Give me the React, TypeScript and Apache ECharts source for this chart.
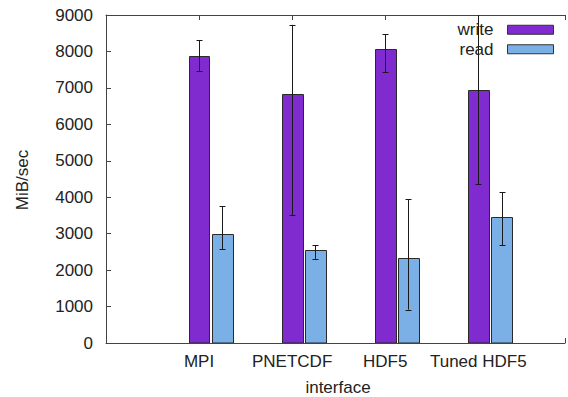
import React, { useEffect, useRef } from "react";
import * as echarts from "echarts";

const categories = ["MPI", "PNETCDF", "HDF5", "Tuned HDF5"];
const writeValues = [7870, 6830, 8060, 6940];
const writeLow = [7460, 3500, 7430, 4350];
const writeHigh = [8310, 8730, 8470, 9520];
const readValues = [3000, 2545, 2335, 3460];
const readLow = [2570, 2310, 915, 2680];
const readHigh = [3750, 2680, 3950, 4135];
const seriesNames = ["write", "read"];
const yMin = 0;
const yMax = 9000;
const yInterval = 1000;

const FONT = "'Liberation Sans', Arial, sans-serif";
const HALF_W = 0.112;
const READ_OFFSET = 0.25;

function makeData(values: number[], low: number[], high: number[], offset: number) {
  return values.map((v, i) => [i + 1 + offset, v, low[i], high[i]]);
}

function renderItem(params: any, api: any) {
  const x = api.value(0);
  const y = api.value(1);
  const lo = api.value(2);
  const hi = api.value(3);
  const pTop = api.coord([x - HALF_W, y]);
  const pBot = api.coord([x + HALF_W, 0]);
  const cx = Math.round(api.coord([x, 0])[0]) + 0.5;
  const eTop = api.coord([x, hi])[1];
  const eBot = api.coord([x, lo])[1];
  const left = Math.round(pTop[0]) + 0.5;
  const right = Math.round(pBot[0]) + 0.5;
  const top = Math.round(pTop[1]) + 0.5;
  const bottom = Math.round(pBot[1]);
  const errStyle = { stroke: "#1a1a1a", lineWidth: 1 };
  return {
    type: "group",
    children: [
      {
        type: "rect",
        shape: { x: left, y: top, width: right - left, height: bottom - top },
        style: { fill: api.visual("color"), stroke: "#2a2a2a", lineWidth: 1 },
      },
      { type: "line", shape: { x1: cx, y1: eTop, x2: cx, y2: eBot }, style: errStyle },
      { type: "line", shape: { x1: cx - 3, y1: Math.round(eTop) + 0.5, x2: cx + 3, y2: Math.round(eTop) + 0.5 }, style: errStyle },
      { type: "line", shape: { x1: cx - 3, y1: Math.round(eBot) + 0.5, x2: cx + 3, y2: Math.round(eBot) + 0.5 }, style: errStyle },
    ],
  };
}

export default function App() {
  const ref = useRef<HTMLDivElement>(null);
  useEffect(() => {
    document.body.style.margin = "0";
    const chart = echarts.init(ref.current!, undefined, { renderer: "svg" });
    const axisLineStyle = { color: "#444", width: 1 };
    chart.setOption({
      animation: false,
      backgroundColor: "#ffffff",
      textStyle: { fontFamily: FONT },
      grid: { left: 106, right: 0, top: 15, bottom: 54, containLabel: false },
      legend: {
        data: seriesNames.map((n) => ({ name: n, icon: "rect" })),
        orient: "vertical",
        align: "right",
        right: 9,
        top: 15,
        itemWidth: 46,
        itemHeight: 9,
        itemGap: 0,
        itemStyle: { borderColor: "#333", borderWidth: 1 },
        textStyle: { fontFamily: FONT, fontSize: 17, color: "#222", lineHeight: 19.5, padding: [0, 9, 0, 0] },
        selectedMode: false,
      },
      xAxis: [
        {
          type: "value",
          min: 0,
          max: 4.932,
          interval: 1,
          position: "bottom",
          axisLine: { show: true, lineStyle: axisLineStyle },
          axisTick: { show: true, inside: true, length: 5, lineStyle: axisLineStyle },
          splitLine: { show: false },
          axisLabel: {
            fontFamily: FONT,
            fontSize: 17,
            color: "#222",
            margin: 10,
            formatter: (v: number) => categories[Math.round(v) - 1] ?? "",
          },
        },
        {
          type: "value",
          min: 0,
          max: 4.932,
          interval: 1,
          position: "top",
          axisLine: { show: true, lineStyle: axisLineStyle },
          axisTick: { show: true, inside: true, length: 5, lineStyle: axisLineStyle },
          splitLine: { show: false },
          axisLabel: { show: false },
        },
      ],
      yAxis: {
        type: "value",
        min: yMin,
        max: yMax,
        interval: yInterval,
        axisLine: { show: true, lineStyle: axisLineStyle },
        axisTick: { show: true, inside: true, length: 5, lineStyle: axisLineStyle },
        splitLine: { show: false },
        axisLabel: {
          fontFamily: FONT,
          fontSize: 17,
          color: "#222",
          margin: 13,
          formatter: (v: number) => String(v),
        },
      },
      series: [
        {
          name: seriesNames[0],
          type: "custom",
          renderItem,
          clip: true,
          itemStyle: { color: "#7f2bcf" },
          encode: { x: 0, y: 1 },
          data: makeData(writeValues, writeLow, writeHigh, 0),
        },
        {
          name: seriesNames[1],
          type: "custom",
          renderItem,
          clip: true,
          itemStyle: { color: "#7bb0e6" },
          encode: { x: 0, y: 1 },
          data: makeData(readValues, readLow, readHigh, READ_OFFSET),
        },
      ],
      graphic: [
        {
          type: "text",
          x: 22,
          y: 180,
          rotation: Math.PI / 2,
          style: {
            text: "MiB/sec",
            font: `17px ${FONT}`,
            fill: "#222",
            textAlign: "center",
            textVerticalAlign: "middle",
          },
        },
        {
          type: "text",
          x: 338,
          y: 387,
          style: {
            text: "interface",
            font: `17px ${FONT}`,
            fill: "#222",
            textAlign: "center",
            textVerticalAlign: "middle",
          },
        },
      ],
    });
    return () => chart.dispose();
  }, []);
  return <div ref={ref} style={{ position: "fixed", left: 0, top: 0, width: 568, height: 397 }} />;
}
